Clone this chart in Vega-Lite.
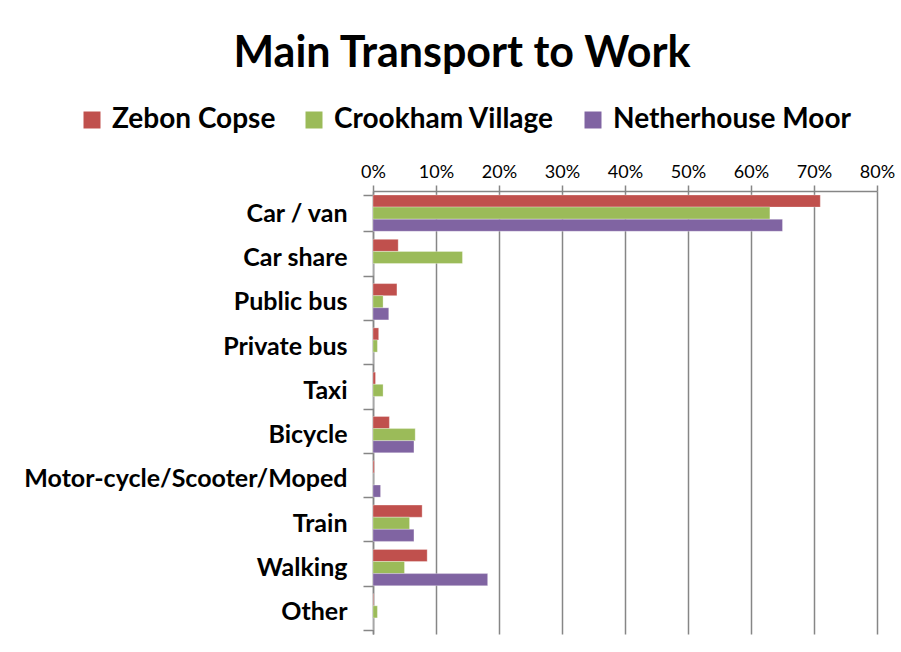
{
  "$schema": "https://vega.github.io/schema/vega-lite/v6.json",
  "width": 504,
  "height": 443,
  "autosize": {"type": "none"},
  "padding": {"left": 373, "top": 191, "right": 24, "bottom": 18},
  "background": "white",
  "title": {
    "text": "Main Transport to Work",
    "font": "Lato",
    "fontSize": 43,
    "fontWeight": "bold",
    "color": "black",
    "anchor": "middle",
    "frame": "group",
    "dx": -163,
    "offset": 30
  },
  "data": {
    "values": [
      {"mode": "Car / van", "area": "Zebon Copse", "value": 0.71},
      {"mode": "Car / van", "area": "Crookham Village", "value": 0.63},
      {"mode": "Car / van", "area": "Netherhouse Moor", "value": 0.65},
      {"mode": "Car share", "area": "Zebon Copse", "value": 0.04},
      {"mode": "Car share", "area": "Crookham Village", "value": 0.142},
      {"mode": "Car share", "area": "Netherhouse Moor", "value": 0},
      {"mode": "Public bus", "area": "Zebon Copse", "value": 0.038},
      {"mode": "Public bus", "area": "Crookham Village", "value": 0.016},
      {"mode": "Public bus", "area": "Netherhouse Moor", "value": 0.025},
      {"mode": "Private bus", "area": "Zebon Copse", "value": 0.009},
      {"mode": "Private bus", "area": "Crookham Village", "value": 0.007},
      {"mode": "Private bus", "area": "Netherhouse Moor", "value": 0},
      {"mode": "Taxi", "area": "Zebon Copse", "value": 0.004},
      {"mode": "Taxi", "area": "Crookham Village", "value": 0.016},
      {"mode": "Taxi", "area": "Netherhouse Moor", "value": 0},
      {"mode": "Bicycle", "area": "Zebon Copse", "value": 0.026},
      {"mode": "Bicycle", "area": "Crookham Village", "value": 0.067},
      {"mode": "Bicycle", "area": "Netherhouse Moor", "value": 0.065},
      {"mode": "Motor-cycle/Scooter/Moped", "area": "Zebon Copse", "value": 0.002},
      {"mode": "Motor-cycle/Scooter/Moped", "area": "Crookham Village", "value": 0},
      {"mode": "Motor-cycle/Scooter/Moped", "area": "Netherhouse Moor", "value": 0.012},
      {"mode": "Train", "area": "Zebon Copse", "value": 0.078},
      {"mode": "Train", "area": "Crookham Village", "value": 0.058},
      {"mode": "Train", "area": "Netherhouse Moor", "value": 0.065},
      {"mode": "Walking", "area": "Zebon Copse", "value": 0.086},
      {"mode": "Walking", "area": "Crookham Village", "value": 0.05},
      {"mode": "Walking", "area": "Netherhouse Moor", "value": 0.182},
      {"mode": "Other", "area": "Zebon Copse", "value": 0.001},
      {"mode": "Other", "area": "Crookham Village", "value": 0.007},
      {"mode": "Other", "area": "Netherhouse Moor", "value": 0}
    ]
  },
  "mark": {"type": "bar", "stroke": "white", "strokeWidth": 0.5, "strokeOpacity": 0.6},
  "encoding": {
    "y": {
      "field": "mode",
      "type": "nominal",
      "sort": null,
      "title": null,
      "scale": {"paddingInner": 0.18, "paddingOuter": 0.09},
      "axis": {
        "labelFont": "Lato",
        "labelFontSize": 25,
        "labelFontWeight": "bold",
        "labelColor": "black",
        "labelPadding": 16,
        "labelLimit": 400,
        "tickBand": "extent",
        "tickSize": 10,
        "tickColor": "#868686",
        "tickWidth": 1.5,
        "domainColor": "#868686",
        "domainWidth": 1.5,
        "grid": false
      }
    },
    "yOffset": {
      "field": "area",
      "type": "nominal",
      "sort": ["Zebon Copse", "Crookham Village", "Netherhouse Moor"]
    },
    "x": {
      "field": "value",
      "type": "quantitative",
      "title": null,
      "scale": {"domain": [0, 0.8], "nice": false},
      "axis": {
        "orient": "top",
        "format": ".0%",
        "values": [0, 0.1, 0.2, 0.3, 0.4, 0.5, 0.6, 0.7, 0.8],
        "labelFlush": false,
        "labelFont": "Lato",
        "labelFontSize": 18,
        "labelColor": "black",
        "labelPadding": 4,
        "tickSize": 6,
        "tickColor": "#868686",
        "tickWidth": 1.5,
        "domainColor": "#868686",
        "domainWidth": 1.5,
        "grid": true,
        "gridColor": "#868686",
        "gridWidth": 1.5
      }
    },
    "color": {
      "field": "area",
      "type": "nominal",
      "sort": ["Zebon Copse", "Crookham Village", "Netherhouse Moor"],
      "scale": {
        "domain": ["Zebon Copse", "Crookham Village", "Netherhouse Moor"],
        "range": ["#C0504D", "#9BBB59", "#8064A2"]
      },
      "legend": {
        "title": null,
        "orient": "none",
        "direction": "horizontal",
        "legendX": -295,
        "legendY": -85,
        "symbolType": "square",
        "symbolSize": 289,
        "symbolStrokeWidth": 0,
        "labelFont": "Lato",
        "labelFontSize": 28,
        "labelFontWeight": "bold",
        "labelColor": "black",
        "labelOffset": 6,
        "columnPadding": 24,
        "labelLimit": 400
      }
    }
  },
  "config": {
    "view": {"stroke": null}
  }
}
